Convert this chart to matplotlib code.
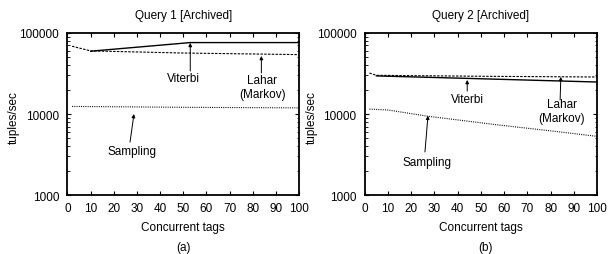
import matplotlib
matplotlib.use('Agg')
import matplotlib.pyplot as plt

plt.rcParams['font.family'] = ['Liberation Sans', 'DejaVu Sans']
plt.rcParams['font.size'] = 8.5

# Query 1 [Archived]
q1_viterbi_x = [10, 53, 100]
q1_viterbi_y = [59500, 76000, 76000]
q1_lahar_x = [2, 10, 50, 100]
q1_lahar_y = [68500, 60000, 56500, 54000]
q1_sampling_x = [2, 50, 100]
q1_sampling_y = [12400, 12100, 11900]

# Query 2 [Archived]
q2_viterbi_x = [5, 50, 100]
q2_viterbi_y = [29500, 27200, 24800]
q2_lahar_x = [2, 5, 50, 100]
q2_lahar_y = [32000, 30000, 29200, 28600]
q2_sampling_x = [2, 10, 27, 58, 80, 100]
q2_sampling_y = [11500, 11200, 9400, 7300, 6200, 5300]

xticks = list(range(0, 101, 10))
yticks = [1000, 10000, 100000]

fig = plt.figure(figsize=(6.08, 2.55), dpi=100)
ax1 = fig.add_axes([0.111, 0.231, 0.381, 0.636])
ax2 = fig.add_axes([0.600, 0.231, 0.382, 0.636])

# labels: (text, text pos, arrow start, arrow tip)
notes1 = [('Viterbi', (49.9, 27800), (53, 33900), (53, 75300)),
          ('Lahar\n(Markov)', (84, 21500), (83.7, 32100), (83.7, 52000)),
          ('Sampling', (27.7, 3520), (27, 4510), (28.7, 10000))]
notes2 = [('Viterbi', (44.1, 15300), (44.1, 19200), (44.1, 26300)),
          ('Lahar\n(Markov)', (84.9, 10900), (84.1, 14900), (84.4, 28700)),
          ('Sampling', (26.9, 2580), (25.9, 3400), (27.2, 9530))]

panels = [
    (ax1, 'Query 1 [Archived]', (q1_viterbi_x, q1_viterbi_y),
     (q1_lahar_x, q1_lahar_y), (q1_sampling_x, q1_sampling_y), notes1),
    (ax2, 'Query 2 [Archived]', (q2_viterbi_x, q2_viterbi_y),
     (q2_lahar_x, q2_lahar_y), (q2_sampling_x, q2_sampling_y), notes2),
]

for ax, title, vit, lah, sam, notes in panels:
    ax.plot(vit[0], vit[1], color='black', lw=1.0, ls='-')
    ax.plot(lah[0], lah[1], color='black', lw=0.8, ls=(0, (2.2, 1.2)))
    ax.plot(sam[0], sam[1], color='black', lw=0.8, ls=(0, (0.9, 1.1)))
    ax.set_yscale('log')
    ax.set_xlim(0, 100)
    ax.set_ylim(1000, 100000)
    ax.set_xticks(xticks)
    ax.set_yticks(yticks)
    ax.set_yticklabels([str(v) for v in yticks])
    ax.yaxis.set_minor_formatter(matplotlib.ticker.NullFormatter())
    ax.tick_params(which='both', direction='in', top=True, right=True)
    ax.tick_params(which='major', length=3, width=0.8)
    ax.tick_params(axis='y', which='major', pad=6)
    ax.tick_params(axis='x', which='major', pad=5)
    ax.tick_params(which='minor', length=1.8, width=0.6)
    for s in ax.spines.values():
        s.set_linewidth(1.3)
    ax.set_title(title, fontsize=8.5, pad=11)
    ax.set_xlabel('Concurrent tags', fontsize=8.5, labelpad=5)
    for txt, txy, start, tip in notes:
        ax.annotate('', xy=tip, xytext=start,
                    arrowprops=dict(arrowstyle='-|>', color='black', lw=0.7,
                                    mutation_scale=5, shrinkA=0, shrinkB=0))
        ax.text(txy[0], txy[1], txt, ha='center', va='center', fontsize=8.5,
                linespacing=1.15)

fig.text(0.301, 0.027, '(a)', ha='center', va='center', fontsize=8.5)
fig.text(0.798, 0.027, '(b)', ha='center', va='center', fontsize=8.5)
fig.text(0.022, 0.54, 'tuples/sec', rotation=90, ha='center', va='center', fontsize=8.5)
fig.text(0.513, 0.54, 'tuples/sec', rotation=90, ha='center', va='center', fontsize=8.5)

fig.savefig('out.png', dpi=100)
